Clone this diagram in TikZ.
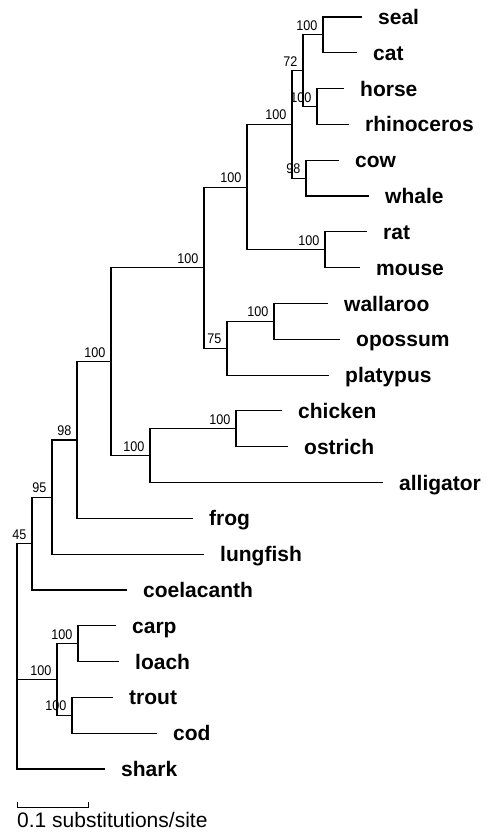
\documentclass[tikz,border=0pt]{standalone}
\usepackage{fontspec}
\setmainfont{Liberation Sans}
\newfontfamily\bootfont[FakeStretch=0.9]{Liberation Sans}
\usetikzlibrary{calc}
\begin{document}
\begin{tikzpicture}[x=1pt,y=-1pt,
  branch/.style={line width=1.1pt, line join=miter},
  taxon/.style={anchor=base west, inner sep=0pt, font=\fontsize{21}{21}\selectfont\bfseries},
  boot/.style={anchor=base east, inner sep=0pt, font=\bootfont\fontsize{14}{14}\selectfont},
  scaletext/.style={anchor=base west, inner sep=0pt, font=\fontsize{21}{21}\selectfont}]
\useasboundingbox[fill=white] (0,0) rectangle (486,838);
% leaf tips
\coordinate (seal) at (362,17.0);
\coordinate (cat) at (357,52.8);
\coordinate (horse) at (344,88.6);
\coordinate (rhino) at (349,124.4);
\coordinate (cow) at (339,160.2);
\coordinate (whale) at (369,196.0);
\coordinate (rat) at (367,231.9);
\coordinate (mouse) at (360,267.7);
\coordinate (wallaroo) at (328,303.5);
\coordinate (opossum) at (340,339.3);
\coordinate (platypus) at (329,375.1);
\coordinate (chicken) at (282,410.9);
\coordinate (ostrich) at (288,446.7);
\coordinate (alligator) at (383,482.5);
\coordinate (frog) at (193,518.3);
\coordinate (lungfish) at (204,554.2);
\coordinate (coelacanth) at (127,590.0);
\coordinate (carp) at (116,625.8);
\coordinate (loach) at (119,661.6);
\coordinate (trout) at (113,697.4);
\coordinate (cod) at (157,733.2);
\coordinate (shark) at (105,769.0);
% internal nodes
\coordinate (nsc) at (323,34.9);
\coordinate (nhr) at (317,106.5);
\coordinate (n72) at (303,70.7);
\coordinate (ncw) at (306,178.1);
\coordinate (nlau) at (292,124.4);
\coordinate (nrm) at (325,249.8);
\coordinate (nplac) at (247,187.1);
\coordinate (nwo) at (274,321.4);
\coordinate (nmar) at (227,348.3);
\coordinate (nmam) at (204,267.7);
\coordinate (nco) at (236,428.8);
\coordinate (nbird) at (150,455.6);
\coordinate (namn) at (111,361.7);
\coordinate (ntet) at (77,440.0);
\coordinate (n95) at (52,497.1);
\coordinate (n45) at (32,543.6);
\coordinate (ncl) at (78,643.7);
\coordinate (ntc) at (72,715.3);
\coordinate (nfish) at (57,679.5);
\coordinate (root) at (17,679.5);
% branches
\draw[branch] (seal) -| (nsc) |- (cat);
\draw[branch] (horse) -| (nhr) |- (rhino);
\draw[branch] (nsc) -| (n72) |- (nhr);
\draw[branch] (cow) -| (ncw) |- (whale);
\draw[branch] (n72) -| (nlau) |- (ncw);
\draw[branch] (rat) -| (nrm) |- (mouse);
\draw[branch] (nlau) -| (nplac) |- (nrm);
\draw[branch] (wallaroo) -| (nwo) |- (opossum);
\draw[branch] (nwo) -| (nmar) |- (platypus);
\draw[branch] (nplac) -| (nmam) |- (nmar);
\draw[branch] (chicken) -| (nco) |- (ostrich);
\draw[branch] (nco) -| (nbird) |- (alligator);
\draw[branch] (nmam) -| (namn) |- (nbird);
\draw[branch] (namn) -| (ntet) |- (frog);
\draw[branch] (ntet) -| (n95) |- (lungfish);
\draw[branch] (n95) -| (n45) |- (coelacanth);
\draw[branch] (carp) -| (ncl) |- (loach);
\draw[branch] (trout) -| (ntc) |- (cod);
\draw[branch] (ncl) -| (nfish) |- (ntc);
\draw[branch] (n45) -| (root) |- (shark);
\draw[branch] (root) -- (nfish);
% taxon labels
\foreach \t/\n in {seal/seal,cat/cat,horse/horse,rhino/rhinoceros,cow/cow,whale/whale,rat/rat,mouse/mouse,wallaroo/wallaroo,opossum/opossum,platypus/platypus,chicken/chicken,ostrich/ostrich,alligator/alligator,frog/frog,lungfish/lungfish,coelacanth/coelacanth,carp/carp,loach/loach,trout/trout,cod/cod,shark/shark}
  \node[taxon] (\t-l) at ($(\t)+(16,7.5)$) {\n};
% bootstrap values
\foreach \c/\v in {nsc/100,nhr/100,n72/72,ncw/98,nlau/100,nrm/100,nplac/100,nwo/100,nmar/75,nmam/100,nco/100,nbird/100,namn/100,ntet/98,n95/95,n45/45,ncl/100,ntc/100,nfish/100}
  \node[boot] (\c-b) at ($(\c)+(-5.5,-4.5)$) {\v};
% scale bar
\coordinate (sb1) at (17,807);
\coordinate (sb2) at (88,807);
\draw[line width=1pt] ($(sb1)+(0,-5)$) -- (sb1) -- (sb2) -- ($(sb2)+(0,-5)$);
\node[scaletext] (sbt) at (17,827) {0.1 substitutions/site};
\end{tikzpicture}
\end{document}
